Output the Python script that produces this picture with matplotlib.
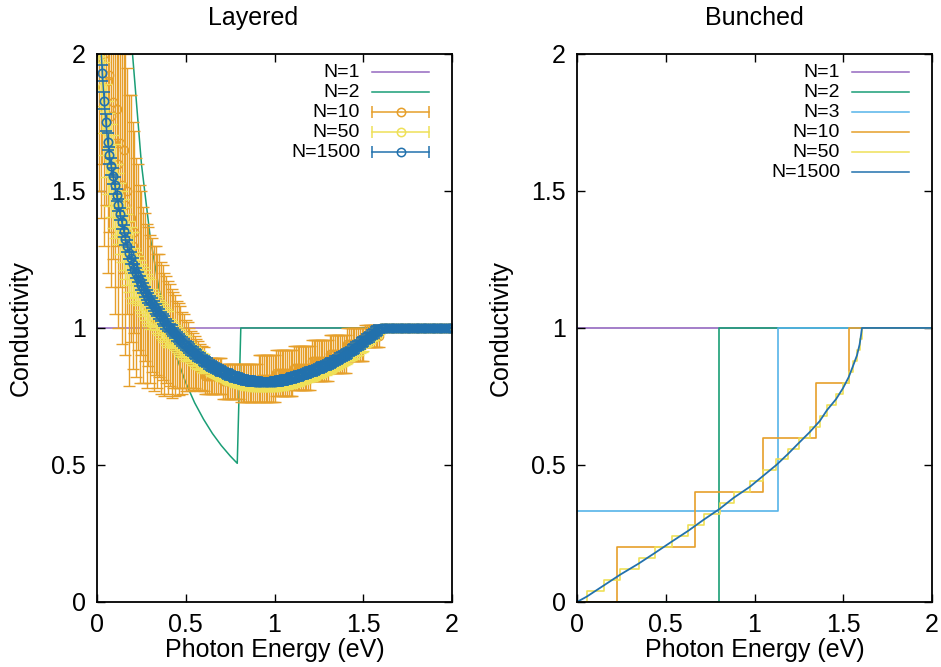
"""Optical conductivity of layered vs bunched stacks."""

import numpy as np
import matplotlib
matplotlib.use("Agg")
import matplotlib.pyplot as plt

plt.rcParams['font.family'] = ['Liberation Sans', 'DejaVu Sans']

# photon energy grid (eV) for the layered averages
energy = np.round(np.arange(1, 201) * 0.01, 2)

# --- layered: N=2 exact curve ---
layered_n2_x = [0.17, 0.20, 0.25, 0.30, 0.35, 0.40, 0.45, 0.50, 0.55, 0.60,
                0.65, 0.70, 0.75, 0.79, 0.81, 2.00]
layered_n2_y = [2.35, 2.00, 1.60, 1.33, 1.14, 1.00, 0.89, 0.80, 0.727, 0.667,
                0.615, 0.571, 0.533, 0.506, 1.00, 1.00]

# --- layered: N=10 ensemble mean and spread ---
layered_n10 = ([2.25, 2.15, 2.20, 2.00, 2.025, 1.90, 1.925, 1.775, 1.825, 1.675,
                1.80, 1.60, 1.675, 1.52, 1.65, 1.45, 1.50, 1.32, 1.40, 1.30,
                1.35, 1.22, 1.26, 1.16, 1.20, 1.12, 1.15, 1.08, 1.115, 1.07,
                1.085, 1.035, 1.065, 1.025, 1.045, 1.00, 1.02, 0.975, 0.995, 0.965,
                0.975, 0.943, 0.955, 0.935, 0.94, 0.923, 0.93, 0.91, 0.915, 0.90,
                0.90, 0.885, 0.885, 0.878, 0.875, 0.868, 0.863, 0.855, 0.855, 0.85]
               + [0.825] * 10 + [0.805] * 10 + [0.80] * 10 + [0.815] * 10
               + [0.835] * 10 + [0.855] * 10 + [0.88] * 10 + [0.905] * 10
               + [0.94] * 10 + [0.97] * 9 + [1.0] * 41)
layered_n10_err = ([0.75, 0.75, 0.60, 0.70, 0.575, 0.70, 0.575, 0.625, 0.575, 0.625,
                    0.50, 0.60, 0.525, 0.58, 0.45, 0.55, 0.45, 0.53, 0.45, 0.45,
                    0.37, 0.40, 0.34, 0.36, 0.30, 0.32, 0.27, 0.30, 0.255, 0.27,
                    0.245, 0.265, 0.235, 0.245, 0.225, 0.24, 0.21, 0.225, 0.195, 0.205,
                    0.185, 0.198, 0.175, 0.185, 0.16, 0.168, 0.15, 0.15, 0.135, 0.13,
                    0.12, 0.115, 0.105, 0.103, 0.095, 0.093, 0.088, 0.085, 0.08, 0.08]
                   + [0.065] * 10 + [0.065] * 10 + [0.07] * 10 + [0.085] * 10
                   + [0.085] * 10 + [0.08] * 10 + [0.075] * 10 + [0.07] * 10
                   + [0.06] * 10 + [0.04] * 9 + [0.0] * 41)

# --- layered: N=50 ---
layered_n50 = [2.15, 1.98, 1.88, 1.80, 1.72, 1.66, 1.615, 1.575, 1.535, 1.50,
               1.468, 1.435, 1.40, 1.37, 1.34, 1.31, 1.285, 1.26, 1.24, 1.22,
               1.203, 1.187, 1.172, 1.157, 1.144, 1.132, 1.12, 1.107, 1.097, 1.087,
               1.077, 1.067, 1.057, 1.047, 1.038, 1.03, 1.021, 1.013, 1.004, 0.996,
               0.988, 0.981, 0.973, 0.966, 0.958, 0.951, 0.944, 0.938, 0.931, 0.925,
               0.919, 0.913, 0.907, 0.901, 0.895, 0.890, 0.885, 0.880, 0.875, 0.870,
               0.865, 0.861, 0.856, 0.852, 0.848, 0.844, 0.840, 0.837, 0.833, 0.830,
               0.827, 0.824, 0.821, 0.818, 0.815, 0.813, 0.810, 0.808, 0.806, 0.804,
               0.802, 0.800, 0.798, 0.797, 0.796, 0.795, 0.794, 0.793, 0.792, 0.792,
               0.791, 0.791, 0.791, 0.791, 0.791, 0.791, 0.791, 0.791, 0.791, 0.792,
               0.793, 0.794, 0.795, 0.796, 0.797, 0.799, 0.800, 0.802, 0.804, 0.806,
               0.808, 0.810, 0.812, 0.814, 0.816, 0.818, 0.820, 0.823, 0.825, 0.828,
               0.830, 0.833, 0.835, 0.838, 0.840, 0.843, 0.846, 0.849, 0.851, 0.854,
               0.857, 0.861, 0.864, 0.868, 0.871, 0.875, 0.879, 0.883, 0.887, 0.891,
               0.895, 0.900, 0.904, 0.909, 0.914, 0.919, 0.924, 0.929, 0.934, 0.939,
               0.944, 0.949, 0.955, 0.960, 0.966, 0.972, 0.978, 0.985, 0.992, 1.0
               ] + [1.0] * 40
layered_n50_err = ([0.17] * 10 + [0.13] * 10 + [0.09] * 10 + [0.065] * 10
                   + [0.045] * 10 + [0.035] * 10 + [0.022] * 90 + [0.015] * 9
                   + [0.0] * 41)

# --- layered: N=1500 ---
layered_n1500 = [2.20, 2.05, 1.93, 1.83, 1.75, 1.68, 1.63, 1.59, 1.555, 1.52,
                 1.485, 1.45, 1.415, 1.385, 1.355, 1.325, 1.30, 1.275, 1.255, 1.235,
                 1.217, 1.20, 1.185, 1.17, 1.157, 1.145, 1.132, 1.12, 1.11, 1.10,
                 1.09, 1.08, 1.07, 1.06, 1.051, 1.042, 1.033, 1.025, 1.016, 1.008,
                 1.0, 0.993, 0.985, 0.978, 0.97, 0.963, 0.956, 0.95, 0.943, 0.937,
                 0.931, 0.925, 0.919, 0.913, 0.907, 0.902, 0.897, 0.892, 0.887, 0.882,
                 0.877, 0.873, 0.868, 0.864, 0.86, 0.856, 0.852, 0.849, 0.845, 0.842,
                 0.839, 0.836, 0.833, 0.830, 0.827, 0.825, 0.822, 0.820, 0.818, 0.816,
                 0.814, 0.812, 0.81, 0.809, 0.808, 0.807, 0.806, 0.805, 0.804, 0.804,
                 0.803, 0.803, 0.803, 0.803, 0.803, 0.803, 0.803, 0.803, 0.803, 0.804,
                 0.805, 0.806, 0.807, 0.808, 0.809, 0.811, 0.812, 0.814, 0.816, 0.818,
                 0.820, 0.822, 0.824, 0.826, 0.828, 0.830, 0.832, 0.835, 0.837, 0.840,
                 0.842, 0.845, 0.847, 0.850, 0.852, 0.855, 0.858, 0.861, 0.863, 0.866,
                 0.869, 0.873, 0.876, 0.880, 0.883, 0.887, 0.891, 0.895, 0.899, 0.903,
                 0.907, 0.912, 0.916, 0.921, 0.926, 0.931, 0.936, 0.941, 0.946, 0.951,
                 0.956, 0.961, 0.966, 0.971, 0.976, 0.981, 0.986, 0.991, 0.996, 1.0
                 ] + [1.0] * 40
layered_n1500_err = ([0.03] * 10 + [0.022] * 10 + [0.018] * 20
                     + [0.016] * 119 + [0.0] * 41)

# --- bunched: step edges (eV) and conductivity levels ---
bunched_n2_edges = [0.0, 0.80, 2.0]
bunched_n2_levels = [0.0, 1.0, 1.0]
bunched_n3_edges = [0.0, 1.13, 2.0]
bunched_n3_levels = [1 / 3, 1.0, 1.0]
bunched_n10_edges = [0.0, 0.227, 0.665, 1.046, 1.346, 1.534, 2.0]
bunched_n10_levels = [0.0, 0.2, 0.4, 0.6, 0.8, 1.0, 1.0]
bunched_n50_edges = [0.0, 0.056, 0.150, 0.244, 0.347, 0.441, 0.533, 0.627, 0.713,
                     0.804, 0.882, 0.973, 1.048, 1.123, 1.188, 1.249, 1.311, 1.367,
                     1.408, 1.459, 1.498, 1.530, 1.554, 1.577, 1.592, 1.603, 2.0]
bunched_n50_levels = [0.0, 0.04, 0.08, 0.12, 0.16, 0.20, 0.24, 0.28, 0.32, 0.36,
                      0.40, 0.44, 0.48, 0.52, 0.56, 0.60, 0.64, 0.68, 0.72, 0.76,
                      0.80, 0.84, 0.88, 0.92, 0.96, 1.0, 1.0]
bunched_n1500_x = [0.0, 0.056, 0.150, 0.244, 0.347, 0.441, 0.533, 0.627, 0.713,
                   0.804, 0.882, 0.973, 1.048, 1.123, 1.188, 1.249, 1.311, 1.367,
                   1.408, 1.459, 1.498, 1.530, 1.554, 1.577, 1.592, 1.600, 1.605, 2.0]
bunched_n1500_y = [0.0, 0.02, 0.06, 0.10, 0.14, 0.18, 0.22, 0.26, 0.30, 0.34,
                   0.38, 0.42, 0.46, 0.50, 0.54, 0.58, 0.62, 0.66, 0.70, 0.74,
                   0.78, 0.82, 0.86, 0.90, 0.94, 0.975, 1.0, 1.0]

C_PURPLE = '#9468c0'
C_GREEN = '#1a9e76'
C_SKY = '#56b4e9'
C_ORANGE = '#e69f2a'
C_YELLOW = '#efe058'
C_BLUE = '#2271ad'

ticks = [0, 0.5, 1, 1.5, 2]
tick_labels = ['0', '0.5', '1', '1.5', '2']
FS = 18


def style_axes(ax, title, title_x=0.5):
    ax.set_xlim(0, 2)
    ax.set_ylim(0, 2)
    ax.set_xticks(ticks)
    ax.set_xticklabels(tick_labels)
    ax.set_yticks(ticks)
    ax.set_yticklabels(tick_labels)
    ax.tick_params(direction='in', top=True, right=True, length=6, width=1,
                   labelsize=FS, pad=8)
    for sp in ax.spines.values():
        sp.set_linewidth(1.3)
        sp.set_zorder(10)
    ax.set_xlabel('Photon Energy (eV)', fontsize=FS)
    ax.set_ylabel('Conductivity', fontsize=FS)
    ax.xaxis.set_label_coords(0.5, -0.066)
    ax.yaxis.set_label_coords(-0.18, 0.5)
    ax.text(title_x, 1.066, title, transform=ax.transAxes, ha='center',
            va='center', fontsize=FS)


def draw_key(ax, entries):
    for i, (label, color, with_bars) in enumerate(entries):
        y = 0.967 - i * 0.0365
        ax.text(0.741, y, label, transform=ax.transAxes, ha='right',
                va='center', fontsize=14)
        ax.plot([0.775, 0.935], [y, y], color=color, lw=1.1,
                transform=ax.transAxes, clip_on=False, zorder=20)
        if with_bars:
            ax.plot([0.775, 0.935], [y, y], ls='none', marker='|', ms=9,
                    mew=1.1, color=color, transform=ax.transAxes,
                    clip_on=False, zorder=20)
            ax.plot([0.855], [y], ls='none', marker='o', ms=6, mfc='none',
                    mew=1.1, color=color, transform=ax.transAxes,
                    clip_on=False, zorder=20)


fig = plt.figure(figsize=(9.41, 6.67), dpi=100)
ax_l = fig.add_axes([0.1031, 0.0975, 0.3773, 0.8216])
ax_r = fig.add_axes([0.6132, 0.0975, 0.3773, 0.8216])

# Layered panel
ax_l.plot([0, 2], [1, 1], color=C_PURPLE, lw=1.1, zorder=1)
ax_l.plot(layered_n2_x, layered_n2_y, color=C_GREEN, lw=1.1, zorder=2)
ax_l.errorbar(energy, layered_n10, yerr=layered_n10_err, fmt='o', ms=6,
              mfc='none', mew=1.0, color=C_ORANGE, ecolor=C_ORANGE,
              elinewidth=1.0, capsize=4, capthick=1.0, zorder=3)
ax_l.errorbar(energy, layered_n50, yerr=layered_n50_err, fmt='o', ms=6,
              mfc='none', mew=1.0, color=C_YELLOW, ecolor=C_YELLOW,
              elinewidth=1.0, capsize=4, capthick=1.0, zorder=4)
ax_l.errorbar(energy, layered_n1500, yerr=layered_n1500_err, fmt='-o', ms=6,
              lw=1.0, mfc='none', mew=1.2, color=C_BLUE, ecolor=C_BLUE,
              elinewidth=1.0, capsize=4, capthick=1.0, zorder=5)
style_axes(ax_l, 'Layered', title_x=0.44)
draw_key(ax_l, [('N=1', C_PURPLE, False), ('N=2', C_GREEN, False),
                ('N=10', C_ORANGE, True), ('N=50', C_YELLOW, True),
                ('N=1500', C_BLUE, True)])

# Bunched panel
ax_r.plot([0, 2], [1, 1], color=C_PURPLE, lw=1.2, zorder=1)
ax_r.step(bunched_n2_edges, bunched_n2_levels, where='post', color=C_GREEN,
          lw=1.2, zorder=2)
ax_r.step(bunched_n3_edges, bunched_n3_levels, where='post', color=C_SKY,
          lw=1.2, zorder=3)
ax_r.step(bunched_n10_edges, bunched_n10_levels, where='post', color=C_ORANGE,
          lw=1.2, zorder=4)
ax_r.step(bunched_n50_edges, bunched_n50_levels, where='post', color=C_YELLOW,
          lw=1.2, zorder=5)
ax_r.plot(bunched_n1500_x, bunched_n1500_y, color=C_BLUE, lw=1.3, zorder=6)
style_axes(ax_r, 'Bunched')
draw_key(ax_r, [('N=1', C_PURPLE, False), ('N=2', C_GREEN, False),
                ('N=3', C_SKY, False), ('N=10', C_ORANGE, False),
                ('N=50', C_YELLOW, False), ('N=1500', C_BLUE, False)])

fig.savefig('out.png', dpi=100)
